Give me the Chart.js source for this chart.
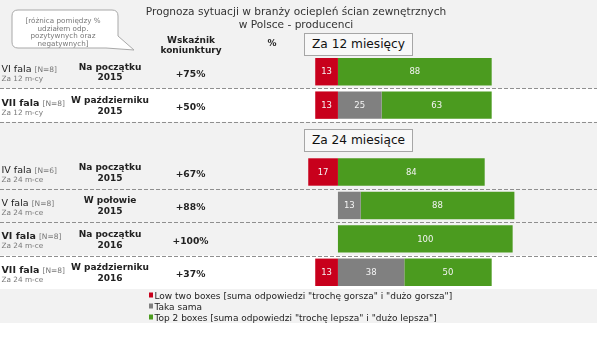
<!DOCTYPE html>
<html>
<head>
<meta charset="utf-8">
<script src="https://cdn.jsdelivr.net/npm/chart.js@4"></script>
<style>
    body { margin: 0; background: #fff; font-family: "DejaVu Sans", sans-serif; }
    #wrap { position: relative; width: 600px; height: 342px; overflow: hidden; }
    #wrap canvas { position: absolute; left: 0; top: 0; }
    #wrap svg { position: absolute; left: 0; top: 0; }
    .t { position: absolute; white-space: nowrap; line-height: 1; color: #222; }
    .title { font-size: 10.6px; color: #333; text-align: center; line-height: 13.3px; }
    .note { font-size: 7.2px; color: #777; text-align: center; line-height: 7.6px; }
    .head { font-size: 9px; font-weight: bold; text-align: center; line-height: 10.7px; }
    .wave { font-size: 9.5px; }
    .wave small { font-size: 7.5px; color: #777; }
    .horizon { font-size: 7.3px; color: #777; }
    .period { font-size: 9px; font-weight: bold; text-align: center; line-height: 10.7px; }
    .idx { font-size: 9.2px; font-weight: bold; }
    .box { position: absolute; left: 304px; width: 107px; height: 21px; border: 1px solid #a6a6a6;
           background: #f8f8f8; font-size: 12.2px; line-height: 21px; text-align: center; color: #111; }
    .leg { font-size: 9px; color: #222; }
    .leg i { display: inline-block; width: 4.5px; height: 4.5px; margin-right: 1.5px; vertical-align: 1px; }
</style>
</head>
<body>
<div id="wrap">
    <canvas id="myChart" width="600" height="342"></canvas>
    <svg width="600" height="342">
        <path d="M18,10 H112 Q118,10 118,16 V36 L134,50 L106,48 H18 Q12,48 12,42 V16 Q12,10 18,10 Z"
              fill="#fff" stroke="#a8a8a8" stroke-width="1"/>
    </svg>
</div>
<script>
// rows (the third slot is the gap under the "Za 24 miesiące" header)
const waves    = ['VI fala', 'VII fala', '', 'IV fala', 'V fala', 'VI fala', 'VII fala'];
const boldWave = [false, true, false, false, false, true, true];
const samples  = ['[N=8]', '[N=8]', '', '[N=6]', '[N=8]', '[N=8]', '[N=8]'];
const horizons = ['Za 12 m-cy', 'Za 12 m-cy', '', 'Za 24 m-ce', 'Za 24 m-ce', 'Za 24 m-ce', 'Za 24 m-ce'];
const periods  = [['Na początku', '2015'], ['W październiku', '2015'], null,
                  ['Na początku', '2015'], ['W połowie', '2015'], ['Na początku', '2016'], ['W październiku', '2016']];
const indexes  = ['+75%', '+50%', '', '+67%', '+88%', '+100%', '+37%'];

// answer shares in %, "low" drawn to the left of zero
const lowTwo  = [-13, -13, null, -17, 0, 0, -13];
const same    = [0, 25, null, 0, 13, 0, 38];
const topTwo  = [88, 63, null, 84, 88, 100, 50];

const seriesNames = [
    'Low two boxes [suma odpowiedzi "trochę gorsza" i "dużo gorsza"]',
    'Taka sama',
    'Top 2 boxes [suma odpowiedzi "trochę lepsza" i "dużo lepsza"]'
];
const seriesColors = ['#c8001c', '#808080', '#4b9b1f'];

const whiteRows  = [1, 6];
const dashedRows = [0, 1, 3, 4, 5]; // dashed line under these rows

// grey panel, white bands and dashed separators
const backdrop = {
    id: 'backdrop',
    beforeDatasetsDraw(chart) {
        const { ctx } = chart;
        const y = chart.scales.y;
        const half = (y.getPixelForValue(1) - y.getPixelForValue(0)) / 2;
        ctx.save();
        ctx.fillStyle = '#f2f2f2';
        ctx.fillRect(0, 0, 597, 323);
        ctx.fillStyle = '#fff';
        whiteRows.forEach(i => ctx.fillRect(0, y.getPixelForValue(i) - half, 597, half * 2));
        ctx.strokeStyle = '#8f8f8f';
        ctx.lineWidth = 1;
        ctx.setLineDash([4, 2]);
        dashedRows.forEach(i => {
            const yy = Math.round(y.getPixelForValue(i) + half) + 0.5;
            ctx.beginPath();
            ctx.moveTo(0, yy);
            ctx.lineTo(597, yy);
            ctx.stroke();
        });
        ctx.restore();
    }
};

// white numbers inside the segments
const valueLabels = {
    id: 'valueLabels',
    afterDatasetsDraw(chart) {
        const { ctx } = chart;
        ctx.save();
        ctx.fillStyle = '#f4f4f4';
        ctx.font = '8.5px "DejaVu Sans"';
        ctx.textAlign = 'center';
        ctx.textBaseline = 'middle';
        chart.data.datasets.forEach((ds, di) => {
            chart.getDatasetMeta(di).data.forEach((bar, i) => {
                const v = ds.data[i];
                if (!v) return;
                ctx.fillText(Math.abs(v), (bar.x + bar.base) / 2, bar.y + 0.5);
            });
        });
        ctx.restore();
    }
};

const ctx = document.getElementById('myChart').getContext('2d');
const chart = new Chart(ctx, {
    type: 'bar',
    data: {
        labels: waves,
        datasets: [lowTwo, same, topTwo].map((d, i) => ({
            label: seriesNames[i],
            data: d,
            backgroundColor: seriesColors[i],
            borderWidth: 0,
            barPercentage: 0.82,
            categoryPercentage: 1
        }))
    },
    options: {
        indexAxis: 'y',
        responsive: false,
        animation: false,
        layout: { padding: { left: 303, right: 0, top: 55, bottom: 53 } },
        scales: {
            x: { display: false, stacked: true, min: -20, max: 150 },
            y: { display: false, stacked: true }
        },
        plugins: { legend: { display: false }, tooltip: { enabled: false } }
    },
    plugins: [backdrop, valueLabels]
});

// text layer
const wrap = document.getElementById('wrap');
function put(html, x, y, cls, align) {
    const el = document.createElement('div');
    el.className = 't ' + cls;
    el.innerHTML = html;
    el.style.left = x + 'px';
    el.style.top = y + 'px';
    el.style.transform = align === 'left' ? 'translateY(-50%)' : 'translate(-50%, -50%)';
    wrap.appendChild(el);
    return el;
}

put('Prognoza sytuacji w branży ociepleń ścian zewnętrznych<br>w Polsce - producenci', 296, 17.5, 'title');
put('[różnica pomiędzy %<br>udziałem odp.<br>pozytywnych oraz<br>negatywnych]', 63, 32, 'note');
put('Wskaźnik<br>koniunktury', 191, 45.5, 'head');
put('%', 272, 42.5, 'head');

const boxTop = document.createElement('div');
boxTop.className = 'box';
boxTop.style.top = '33px';
boxTop.textContent = 'Za 12 miesięcy';
wrap.appendChild(boxTop);
const boxMid = document.createElement('div');
boxMid.className = 'box';
boxMid.style.top = '129px';
boxMid.textContent = 'Za 24 miesiące';
wrap.appendChild(boxMid);

const yScale = chart.scales.y;
waves.forEach((w, i) => {
    if (!w) return;
    const cy = yScale.getPixelForValue(i);
    const name = boldWave[i] ? '<b>' + w + '</b>' : w;
    put(name + ' <small>' + samples[i] + '</small>', 1.5, cy - 2.5, 'wave', 'left');
    put(horizons[i], 1.5, cy + 7.5, 'horizon', 'left');
    put(periods[i].join('<br>'), 110, cy + 1, 'period');
    put(indexes[i], 190.5, cy + 2, 'idx');
});

seriesNames.forEach((name, i) => {
    put('<i style="background:' + seriesColors[i] + '"></i>' + name.replace(/"/g, '&quot;'),
        148.5, 295.5 + i * 11, 'leg', 'left');
});
</script>
</body>
</html>
